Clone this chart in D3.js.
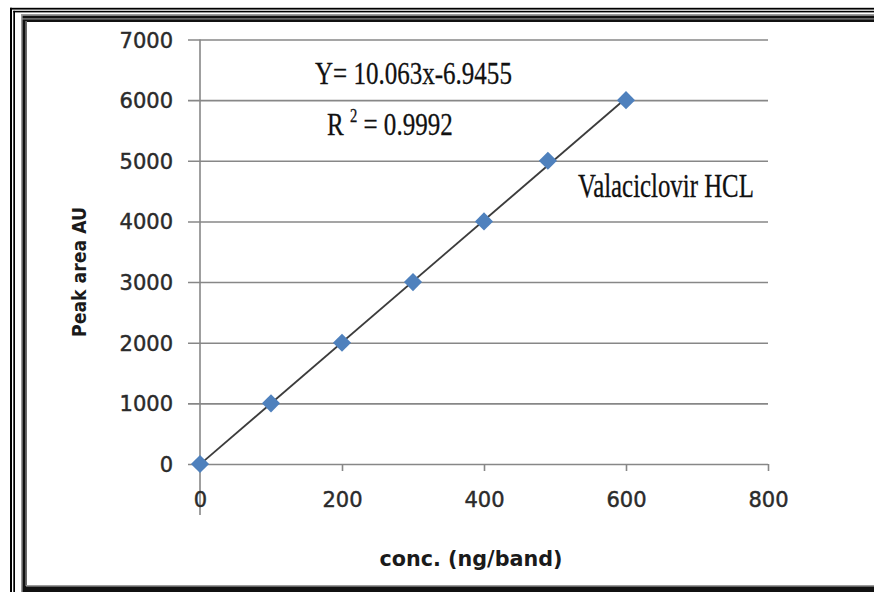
<!DOCTYPE html>
<html>
<head>
<meta charset="utf-8">
<script src="https://cdn.jsdelivr.net/npm/d3@7/dist/d3.min.js"></script>
<style>
  html, body { margin: 0; padding: 0; background: #fff; }
  svg { display: block; }
</style>
</head>
<body>
<svg id="chart" width="874" height="592"></svg>
<script>
// Calibration data: Valaciclovir HCL
const concentration = [0, 100, 200, 300, 400, 490, 600];      // ng/band
const peakArea      = [0, 1000, 2000, 3000, 4000, 5000, 6000]; // AU
const xTickValues = [0, 200, 400, 600, 800];
const yTickValues = [0, 1000, 2000, 3000, 4000, 5000, 6000, 7000];
const slope = 10.063;
const intercept = -6.9455;
const rSquared = 0.9992;
const fitRange = [0, 600];

const svg = d3.select("#chart");
const W = 874, H = 592;

// ---- decorative frame ----
const frame = svg.append("g");
// thin outer lines
frame.append("rect").attr("x", 10).attr("y", 7.8).attr("width", W).attr("height", 1.8).attr("fill", "#000");
frame.append("rect").attr("x", 10).attr("y", 7.8).attr("width", 2).attr("height", H).attr("fill", "#000");
frame.append("rect").attr("x", 13.3).attr("y", 10.8).attr("width", W).attr("height", 1.6).attr("fill", "#000");
frame.append("rect").attr("x", 13.3).attr("y", 10.8).attr("width", 1.7).attr("height", H).attr("fill", "#000");
// thick inner band
frame.append("rect").attr("x", 21).attr("y", 14).attr("width", W).attr("height", 8).attr("fill", "#111");
frame.append("rect").attr("x", 21).attr("y", 14).attr("width", 6).attr("height", H).attr("fill", "#111");
frame.append("rect").attr("x", 21).attr("y", 585).attr("width", W).attr("height", 8).attr("fill", "#111");
frame.append("rect").attr("x", 21).attr("y", 14).attr("width", W).attr("height", 1.8).attr("fill", "#9a9a9a");
frame.append("rect").attr("x", 21).attr("y", 18.3).attr("width", W).attr("height", 1.2).attr("fill", "#8a8a8a");
frame.append("rect").attr("x", 21).attr("y", 14).attr("width", 1.6).attr("height", H).attr("fill", "#9a9a9a");
frame.append("rect").attr("x", 25.2).attr("y", 21).attr("width", 1.8).attr("height", 565).attr("fill", "#6a6a6a");
frame.append("rect").attr("x", 26).attr("y", 585).attr("width", W).attr("height", 1.6).attr("fill", "#9a9a9a");

// ---- scales ----
const x = d3.scaleLinear().domain([0, 800]).range([200, 768]);
const y = d3.scaleLinear().domain([0, 7000]).range([464, 39.5]);

const tickFont = "'DejaVu Sans', Verdana, sans-serif";

// ---- horizontal gridlines with left ticks ----
const yAxis = d3.axisLeft(y)
  .tickValues(yTickValues)
  .tickSize(-(768 - 188))
  .tickPadding(0)
  .tickFormat(d => d);
const gy = svg.append("g").attr("transform", "translate(188,0)").call(yAxis);
gy.select(".domain").remove();
gy.selectAll(".tick line").attr("stroke", "#878787").attr("stroke-width", 1.6).attr("x1", 0);
gy.selectAll(".tick line").attr("x2", 768 - 188);
gy.selectAll(".tick text")
  .attr("x", -15)
  .attr("dy", "0.36em")
  .attr("fill", "#2b2b2b")
  .attr("stroke", "#2b2b2b")
  .attr("stroke-width", 0.45)
  .style("font-family", tickFont)
  .style("font-size", "21px");

// ---- vertical axis line ----
svg.append("line")
  .attr("x1", x(0)).attr("x2", x(0))
  .attr("y1", y(7000)).attr("y2", 515)
  .attr("stroke", "#878787").attr("stroke-width", 1.6);

// ---- x axis ticks and labels ----
const xAxis = d3.axisBottom(x)
  .tickValues(xTickValues)
  .tickSize(7)
  .tickPadding(0)
  .tickFormat(d => d);
const gx = svg.append("g").attr("transform", `translate(0,${y(0)})`).call(xAxis);
gx.select(".domain").remove();
gx.selectAll(".tick line").attr("stroke", "#878787").attr("stroke-width", 1.6);
gx.selectAll(".tick text")
  .attr("y", 43)
  .attr("dy", 0)
  .attr("fill", "#2b2b2b")
  .attr("stroke", "#2b2b2b")
  .attr("stroke-width", 0.45)
  .style("font-family", tickFont)
  .style("font-size", "21px");

// ---- axis titles ----
svg.append("text")
  .attr("x", 471).attr("y", 566)
  .attr("text-anchor", "middle")
  .attr("fill", "#1a1a1a")
  .style("font-family", tickFont)
  .style("font-weight", "bold")
  .style("font-size", "22px")
  .attr("textLength", 183)
  .attr("lengthAdjust", "spacingAndGlyphs")
  .text("conc. (ng/band)");

svg.append("text")
  .attr("transform", "translate(86,272) rotate(-90)")
  .attr("text-anchor", "middle")
  .attr("fill", "#1a1a1a")
  .style("font-family", tickFont)
  .style("font-weight", "bold")
  .style("font-size", "20px")
  .attr("textLength", 130)
  .attr("lengthAdjust", "spacingAndGlyphs")
  .text("Peak area AU");

// ---- fitted line ----
const fit = fitRange.map(c => [c, slope * c + intercept]);
svg.append("path")
  .datum(fit)
  .attr("d", d3.line().x(d => x(d[0])).y(d => y(d[1])))
  .attr("fill", "none")
  .attr("stroke", "#3c3c3c")
  .attr("stroke-width", 1.8);

// ---- data markers ----
const diamond = d3.symbol().type(d3.symbolDiamond2).size(210);
svg.append("g").selectAll("path")
  .data(concentration.map((c, i) => [c, peakArea[i]]))
  .join("path")
  .attr("transform", d => `translate(${x(d[0])},${y(d[1])})`)
  .attr("d", diamond)
  .attr("fill", "#4f81bd");

// ---- annotations ----
const serif = "'Liberation Serif', 'Times New Roman', serif";
const fmt = v => String(v);

svg.append("text")
  .attr("transform", "translate(315,84) scale(0.77,1)")
  .attr("fill", "#111")
  .attr("stroke", "#111")
  .attr("stroke-width", 0.3)
  .style("font-family", serif)
  .style("font-size", "32.5px")
  .text(`Y= ${fmt(slope)}x${intercept < 0 ? "-" : "+"}${fmt(Math.abs(intercept))}`);

const r2 = svg.append("text")
  .attr("transform", "translate(327,135) scale(0.77,1)")
  .attr("fill", "#111")
  .attr("stroke", "#111")
  .attr("stroke-width", 0.3)
  .style("font-family", serif)
  .style("font-size", "32.5px");
r2.append("tspan").text("R ");
r2.append("tspan").attr("dy", -13).style("font-size", "19px").text("2");
r2.append("tspan").attr("dy", 13).text(` = ${fmt(rSquared)}`);

svg.append("text")
  .attr("transform", "translate(578,197) scale(0.72,1)")
  .attr("fill", "#111")
  .attr("stroke", "#111")
  .attr("stroke-width", 0.3)
  .style("font-family", serif)
  .style("font-size", "34.5px")
  .text("Valaciclovir HCL");
</script>
</body>
</html>
